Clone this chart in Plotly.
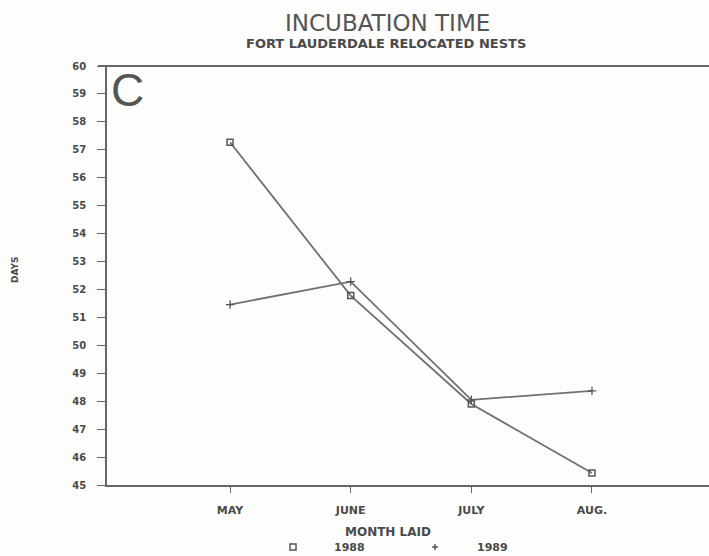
import plotly.graph_objects as go

months = ["MAY", "JUNE", "JULY", "AUG."]
days_1988 = [57.27, 51.78, 47.90, 45.43]
days_1989 = [51.46, 52.28, 48.05, 48.37]
y_ticks = list(range(45, 61))

W, H = 709, 556
L, R, T, B = 107, 0, 66, 71
PW, PH = W - L - R, H - T - B


def px(x):
    return (x - L) / PW


def py(y):
    return (H - B - y) / PH


LINE = "#707070"
TEXT = "#4a4a4a"
FONT = "DejaVu Sans"

fig = go.Figure()
fig.add_trace(go.Scatter(
    x=months, y=days_1988, mode="lines+markers", name="1988",
    line=dict(color=LINE, width=1.8),
    marker=dict(symbol="square-open", size=6, color="#555", line=dict(width=1.5)),
    showlegend=False, cliponaxis=False,
))
fig.add_trace(go.Scatter(
    x=months, y=days_1989, mode="lines+markers", name="1989",
    line=dict(color=LINE, width=1.8),
    marker=dict(symbol="cross-thin", size=6, color="#555", line=dict(width=1.3, color="#555")),
    showlegend=False, cliponaxis=False,
))

fig.update_layout(
    width=W, height=H,
    margin=dict(l=L, r=R, t=T, b=B, pad=0),
    paper_bgcolor="#fdfdfb", plot_bgcolor="#fdfdfb",
    font=dict(family=FONT, color=TEXT),
    showlegend=False,
)
fig.update_xaxes(
    type="category", range=[-1.02, 3.97],
    showgrid=False, zeroline=False,
    showline=True, linecolor="#666", linewidth=1.8,
    ticks="outside", ticklen=6, tickwidth=1.2, tickcolor="#666",
    tickfont=dict(family=FONT, size=11, color=TEXT, weight="bold"),
    ticklabelstandoff=8,
)
fig.update_yaxes(
    range=[45, 60], tickvals=y_ticks, ticktext=[str(v) for v in y_ticks],
    showgrid=False, zeroline=False,
    showline=True, linecolor="#666", linewidth=1.8,
    ticks="outside", ticklen=8, tickwidth=1.2, tickcolor="#666",
    tickfont=dict(family=FONT, size=10, color=TEXT, weight="bold"),
    ticklabelstandoff=9,
)

# top frame line
fig.add_shape(type="line", xref="paper", yref="paper",
              x0=px(98), x1=1.0, y0=1.0, y1=1.0,
              line=dict(color="#666", width=1.8))

anns = [
    dict(text="INCUBATION TIME", x=px(387), y=py(23), font=dict(size=23, color="#555")),
    dict(text="FORT LAUDERDALE RELOCATED NESTS", x=px(386), y=py(43),
         font=dict(size=13, color=TEXT, weight="bold")),
    dict(text="C", x=px(127), y=py(90), font=dict(family="Liberation Sans", size=46, color="#555")),
    dict(text="DAYS", x=px(15), y=py(270), textangle=-90, font=dict(size=9, color=TEXT, weight="bold")),
    dict(text="MONTH LAID", x=px(388), y=py(532), font=dict(size=12, color=TEXT, weight="bold")),
    dict(text="1988", x=px(349), y=py(547), font=dict(size=11, color=TEXT, weight="bold")),
    dict(text="1989", x=px(492), y=py(547), font=dict(size=11, color=TEXT, weight="bold")),
]
for a in anns:
    fig.add_annotation(xref="paper", yref="paper", showarrow=False,
                       xanchor="center", yanchor="middle", **a)

# legend symbols (square for 1988, plus for 1989)
sq_x, sq_y, s = 293, 547, 3
fig.add_shape(type="rect", xref="paper", yref="paper",
              x0=px(sq_x - s), x1=px(sq_x + s), y0=py(sq_y + s), y1=py(sq_y - s),
              line=dict(color="#555", width=1.5))
pl_x, pl_y, p = 435, 547, 3
fig.add_shape(type="line", xref="paper", yref="paper",
              x0=px(pl_x - p), x1=px(pl_x + p), y0=py(pl_y), y1=py(pl_y),
              line=dict(color="#555", width=1.5))
fig.add_shape(type="line", xref="paper", yref="paper",
              x0=px(pl_x), x1=px(pl_x), y0=py(pl_y - p), y1=py(pl_y + p),
              line=dict(color="#555", width=1.5))

fig.write_html("out.html")
